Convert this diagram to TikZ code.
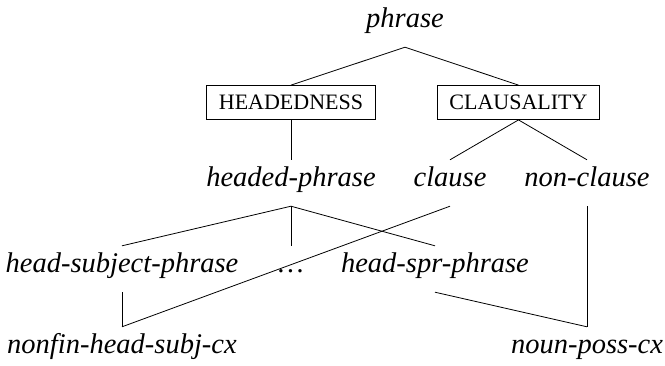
\documentclass[tikz,border=0pt]{standalone}
\usepackage{fontspec}
\setmainfont{Liberation Serif}
\usepackage{tikz}
\usetikzlibrary{positioning}

\begin{document}
\begin{tikzpicture}[x=1pt,y=-1pt,
  typ/.style={font=\fontsize{28.5}{30}\selectfont\itshape, anchor=base,
    inner xsep=0pt, inner ysep=10pt, text height=16pt, text depth=10pt},
  dim/.style={draw, line width=0.8pt, font=\fontsize{22}{24}\selectfont,
    inner xsep=12pt, minimum height=34pt},
  link/.style={line width=0.8pt}]
\useasboundingbox (0,0) rectangle (665,365);
\node[typ] (phrase) at (405,27) {phrase};
\node[dim] (head) at (291,102.5) {HEADEDNESS};
\node[dim] (claus) at (518.5,102.5) {CLAUSALITY};
\node[typ] (hdphr) at (291,186) {headed-phrase};
\node[typ] (clause) at (450,186) {clause};
\node[typ] (nonclause) at (587,186) {non-clause};
\node[typ] (hsubj) at (122,272) {head-subject-phrase};
\node[typ] (dots) at (291,272) {\dots};
\node[typ] (hspr) at (435,272) {head-spr-phrase};
\node[typ] (nfhs) at (122,353) {nonfin-head-subj-cx};
\node[typ] (nposs) at (587,353) {noun-poss-cx};
\foreach \a/\b in {phrase/head, phrase/claus, head/hdphr, claus/clause,
    claus/nonclause, hdphr/hsubj, hdphr/dots, hdphr/hspr,
    hsubj/nfhs, clause/nfhs, hspr/nposs, nonclause/nposs}
  \draw[link] (\a.south) -- (\b.north);
\end{tikzpicture}
\end{document}
